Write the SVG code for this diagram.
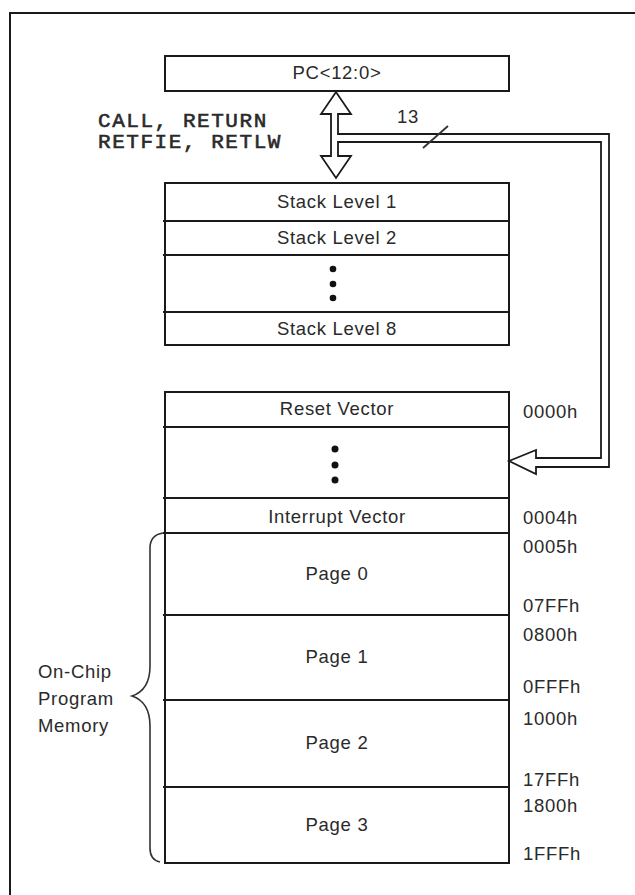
<svg xmlns="http://www.w3.org/2000/svg" width="635" height="895" viewBox="0 0 635 895">
<style>
.box{fill:#fff;stroke:#1a1a1a;stroke-width:2}
.div{stroke:#1a1a1a;stroke-width:2}
.t{font-family:"Liberation Sans",Arial,sans-serif;font-size:18.5px;letter-spacing:0.7px;fill:#2a2a2a}
.c{text-anchor:middle}
.mono{font-family:"Liberation Mono","Courier New",monospace;font-size:21px;letter-spacing:1.55px;fill:#2a2a2a;stroke:#2a2a2a;stroke-width:0.6}
.dot{fill:#111}
</style>
<rect width="635" height="895" fill="#fff"/>
<g id="frame">
<polyline points="10,895 10,13 635,13" fill="none" stroke="#1a1a1a" stroke-width="2"/>
</g>
<g id="pc">
<rect class="box" x="165" y="56" width="344" height="35"/>
<text class="t c" x="337" y="79">PC&lt;12:0&gt;</text>
</g>
<g id="stack">
<rect class="box" x="165" y="183" width="344" height="162"/>
<line class="div" x1="163" y1="221" x2="509" y2="221"/>
<line class="div" x1="163" y1="255" x2="509" y2="255"/>
<line class="div" x1="163" y1="312" x2="509" y2="312"/>
<text class="t c" x="337" y="208">Stack Level 1</text>
<text class="t c" x="337" y="244">Stack Level 2</text>
<circle class="dot" cx="333" cy="269" r="3.3"/>
<circle class="dot" cx="333" cy="284" r="3.3"/>
<circle class="dot" cx="333" cy="298" r="3.3"/>
<text class="t c" x="337" y="335">Stack Level 8</text>
</g>
<g id="memory">
<rect class="box" x="165" y="392" width="344" height="471"/>
<line class="div" x1="163" y1="427" x2="509" y2="427"/>
<line class="div" x1="163" y1="498" x2="509" y2="498"/>
<line class="div" x1="163" y1="533" x2="509" y2="533"/>
<line class="div" x1="163" y1="615" x2="509" y2="615"/>
<line class="div" x1="163" y1="700" x2="509" y2="700"/>
<line class="div" x1="163" y1="787" x2="509" y2="787"/>
<text class="t c" x="337" y="415">Reset Vector</text>
<circle class="dot" cx="335" cy="449" r="3.5"/>
<circle class="dot" cx="335" cy="465" r="3.5"/>
<circle class="dot" cx="335" cy="480" r="3.5"/>
<text class="t c" x="337" y="523">Interrupt Vector</text>
<text class="t c" x="337" y="580">Page 0</text>
<text class="t c" x="337" y="663">Page 1</text>
<text class="t c" x="337" y="749">Page 2</text>
<text class="t c" x="337" y="831">Page 3</text>
</g>
<g id="addresses">
<text class="t" x="523" y="418">0000h</text>
<text class="t" x="523" y="524">0004h</text>
<text class="t" x="523" y="553">0005h</text>
<text class="t" x="523" y="612">07FFh</text>
<text class="t" x="523" y="641">0800h</text>
<text class="t" x="523" y="693">0FFFh</text>
<text class="t" x="523" y="725">1000h</text>
<text class="t" x="523" y="786">17FFh</text>
<text class="t" x="523" y="812">1800h</text>
<text class="t" x="523" y="860">1FFFh</text>
</g>
<g id="labels">
<text class="mono" x="98" y="127">CALL, RETURN</text>
<text class="mono" x="98" y="148">RETFIE, RETLW</text>
<text class="t" x="397" y="123">13</text>
<text class="t" x="38" y="678">On-Chip</text>
<text class="t" x="38" y="705">Program</text>
<text class="t" x="38" y="732">Memory</text>
</g>
<g id="connectors">
<path d="M331,114 L321,114 L336,92 L351,114 L338,114 L338,134 L609,134 L609,467 L536,467 L536,474 L509,461 L536,450 L536,458 L601,458 L601,142 L338,142 L338,156 L351,156 L336,178 L321,156 L331,156 Z" fill="#fff" stroke="#1a1a1a" stroke-width="1.8" stroke-linejoin="miter"/>
<line x1="423" y1="148" x2="448" y2="126" stroke="#333" stroke-width="1.8"/>
<path d="M163,533 Q150,535 150,548 L150,666 Q150,690 132,696 Q150,702 150,726 L150,848 Q150,860 160,862" fill="none" stroke="#333" stroke-width="1.6"/>
</g>
</svg>
